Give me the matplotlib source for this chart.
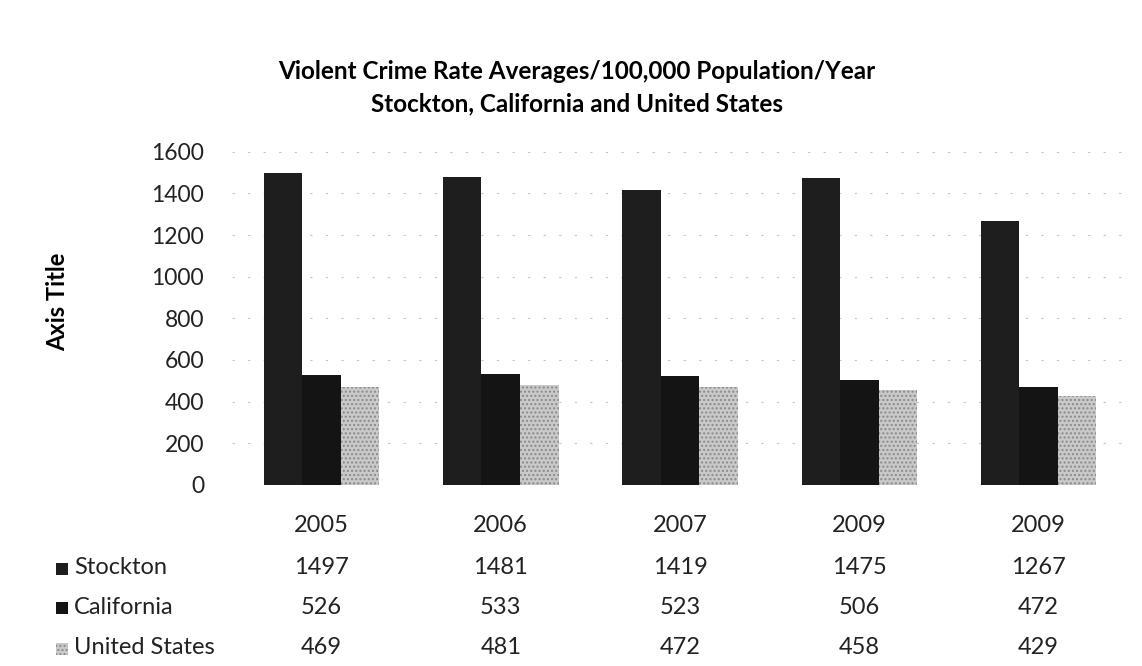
import numpy as np
import matplotlib
matplotlib.use('Agg')
import matplotlib.pyplot as plt
from matplotlib.transforms import blended_transform_factory
from matplotlib.patches import Rectangle

plt.rcParams['font.family'] = ['Lato', 'DejaVu Sans']

# data
years = ['2005', '2006', '2007', '2009', '2009']
series = ['Stockton', 'California', 'United States']
stockton = [1497, 1481, 1419, 1475, 1267]
california = [526, 533, 523, 506, 472]
united_states = [469, 481, 472, 458, 429]

values = [stockton, california, united_states]
colors = ['#1e1e1e', '#141414', '#c9c9c9']
hatches = [None, None, '....']

fig = plt.figure(figsize=(11.42, 6.66), dpi=100)
ax = fig.add_axes([0.203, 0.272, 0.785, 0.5])

x = np.arange(len(years))
w = 0.215
for i, (vals, c, h) in enumerate(zip(values, colors, hatches)):
    ax.bar(x + (i - 1) * w, vals, width=w, color=c, hatch=h,
           edgecolor='#8a8a8a' if h else c, linewidth=0, zorder=3)

ax.set_ylim(0, 1600)
ax.set_xlim(-0.5, len(years) - 0.5)
ax.set_yticks(range(0, 1601, 200))
ax.tick_params(axis='y', length=0, labelsize=16.5, pad=20, colors='#222222')
ax.set_xticks([])
ax.yaxis.grid(True, color='#c4c4c4', linestyle=(0, (2, 12)), linewidth=0.8, zorder=0)
for s in ax.spines.values():
    s.set_visible(False)
ax.axhline(0, color='#cccccc', linestyle=(0, (2, 12)), linewidth=0.8)

ax.set_ylabel('Axis Title', fontsize=17, fontweight='bold')
ax.yaxis.set_label_coords(-0.182, 0.55)

fig.text(0.505, 0.892, 'Violent Crime Rate Averages/100,000 Population/Year',
         ha='center', va='center', fontsize=17.5, fontweight='bold')
fig.text(0.505, 0.844, 'Stockton, California and United States',
         ha='center', va='center', fontsize=17.5, fontweight='bold')

# data table under the bars
tr = blended_transform_factory(ax.transData, fig.transFigure)
row_y = [1 - 526 / 666, 1 - 568 / 666, 1 - 607 / 666, 1 - 648 / 666]
for xi, yr in zip(x, years):
    ax.text(xi, row_y[0], yr, transform=tr, ha='center', va='center',
            fontsize=17, color='#222222')
for r, (name, vals, c, h) in enumerate(zip(series, values, colors, hatches)):
    y = row_y[r + 1]
    fig.patches.append(Rectangle((56 / 1142, y - 0.011), 0.0105, 0.019,
                                 transform=fig.transFigure, facecolor=c,
                                 hatch=h, edgecolor='#8a8a8a' if h else c,
                                 linewidth=0))
    fig.text(74 / 1142, y, name, ha='left', va='center', fontsize=17,
             color='#222222')
    for xi, v in zip(x, vals):
        ax.text(xi, y, str(v), transform=tr, ha='center', va='center',
                fontsize=17, color='#222222')

fig.savefig('out.png', dpi=100)
